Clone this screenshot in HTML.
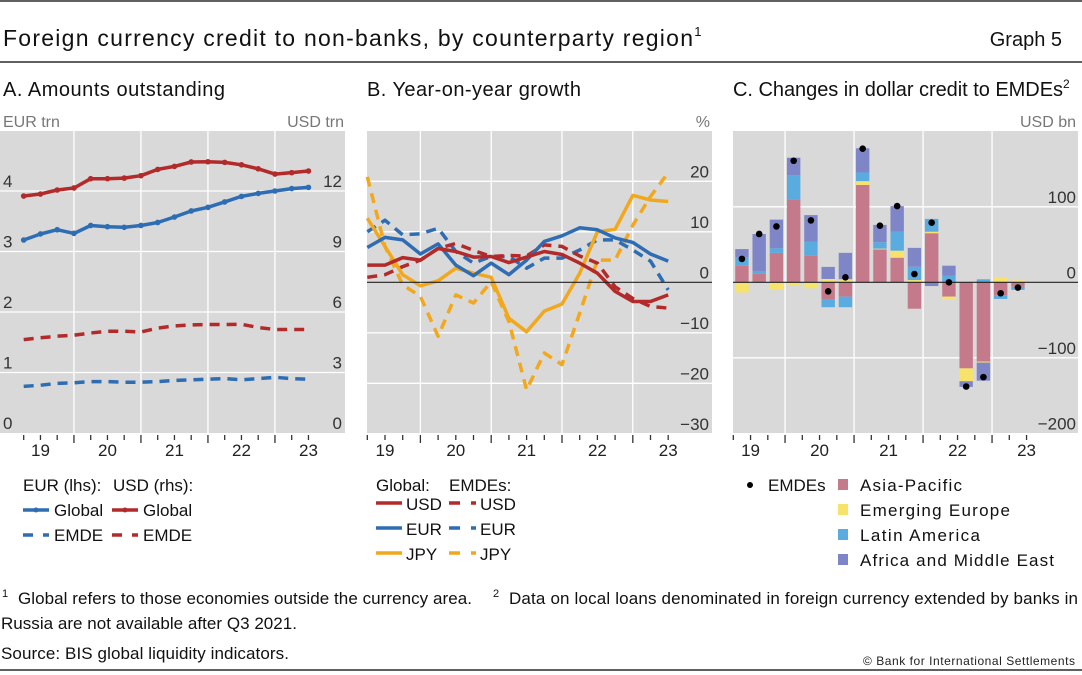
<!DOCTYPE html>
<html><head><meta charset="utf-8">
<style>
body{margin:0;background:#fff;}
svg{display:block;font-family:"Liberation Sans",sans-serif;}
</style></head>
<body>
<svg id="c" width="1082" height="675" viewBox="0 0 1082 675" xmlns="http://www.w3.org/2000/svg">
<line x1="0" y1="1" x2="1082" y2="1" stroke="#000" stroke-width="1.2"/>
<text x="3" y="46" font-size="23" fill="#111"><tspan textLength="690" lengthAdjust="spacing">Foreign currency credit to non-banks, by counterparty region</tspan><tspan font-size="13" dy="-10">1</tspan></text>
<text x="1062" y="46" font-size="20" fill="#111" text-anchor="end">Graph 5</text>
<line x1="0" y1="62" x2="1082" y2="62" stroke="#000" stroke-width="1.2"/>
<text x="3" y="96" font-size="20" fill="#111" textLength="222" lengthAdjust="spacing">A. Amounts outstanding</text>
<text x="367" y="96" font-size="20" fill="#111" textLength="214" lengthAdjust="spacing">B. Year-on-year growth</text>
<text x="733" y="96" font-size="20" fill="#111"><tspan textLength="330" lengthAdjust="spacing">C. Changes in dollar credit to EMDEs</tspan><tspan font-size="12" dy="-8">2</tspan></text>
<text x="3" y="127" font-size="16" fill="#777">EUR trn</text>
<text x="344" y="127" font-size="16" fill="#777" text-anchor="end">USD trn</text>
<text x="710" y="127" font-size="16" fill="#777" text-anchor="end">%</text>
<text x="1076" y="127" font-size="16" fill="#777" text-anchor="end">USD bn</text>
<g id="pa"></g>
<g id="pb"></g>
<g id="pc"></g>

<g font-size="17" fill="#111">
<text x="23" y="491">EUR (lhs):</text>
<text x="113" y="491">USD (rhs):</text>
<g><line x1="23" y1="510" x2="49" y2="510" stroke="#2e6db4" stroke-width="3.5"/><circle cx="36" cy="510" r="2.5" fill="#2e6db4"/><text x="54" y="516">Global</text></g>
<g><line x1="112" y1="510" x2="138" y2="510" stroke="#b22a2a" stroke-width="3.5"/><circle cx="125" cy="510" r="2.5" fill="#b22a2a"/><text x="143" y="516">Global</text></g>
<g><line x1="23" y1="535" x2="49" y2="535" stroke="#2e6db4" stroke-width="3.5" stroke-dasharray="10,10"/><text x="54" y="541">EMDE</text></g>
<g><line x1="112" y1="535" x2="138" y2="535" stroke="#b22a2a" stroke-width="3.5" stroke-dasharray="10,10"/><text x="143" y="541">EMDE</text></g>
</g>
<g font-size="17" fill="#111">
<text x="376" y="491">Global:</text>
<text x="449" y="491">EMDEs:</text>
<g><line x1="376" y1="503" x2="402" y2="503" stroke="#b22a2a" stroke-width="3.5"/><text x="406" y="510">USD</text></g>
<g><line x1="449" y1="503" x2="476" y2="503" stroke="#b22a2a" stroke-width="3.5" stroke-dasharray="11,11"/><text x="480" y="510">USD</text></g>
<g><line x1="376" y1="528" x2="402" y2="528" stroke="#2e6db4" stroke-width="3.5"/><text x="406" y="535">EUR</text></g>
<g><line x1="449" y1="528" x2="476" y2="528" stroke="#2e6db4" stroke-width="3.5" stroke-dasharray="11,11"/><text x="480" y="535">EUR</text></g>
<g><line x1="376" y1="553" x2="402" y2="553" stroke="#f2a81d" stroke-width="3.5"/><text x="406" y="560">JPY</text></g>
<g><line x1="449" y1="553" x2="476" y2="553" stroke="#f2a81d" stroke-width="3.5" stroke-dasharray="11,11"/><text x="480" y="560">JPY</text></g>
</g>
<g font-size="17" fill="#111">
<g><circle cx="750" cy="485" r="3" fill="#000"/><text x="768" y="491">EMDEs</text></g>
<g><rect x="838" y="479" width="10" height="11" fill="#c47a8a"/><text x="860" y="491" textLength="102" lengthAdjust="spacing">Asia-Pacific</text></g>
<g><rect x="838" y="504" width="10" height="11" fill="#f8e36a"/><text x="860" y="516" textLength="150" lengthAdjust="spacing">Emerging Europe</text></g>
<g><rect x="838" y="529" width="10" height="11" fill="#5aabe0"/><text x="860" y="541" textLength="120" lengthAdjust="spacing">Latin America</text></g>
<g><rect x="838" y="554" width="10" height="11" fill="#7f86c7"/><text x="860" y="566" textLength="194" lengthAdjust="spacing">Africa and Middle East</text></g>
</g>
<g font-size="17" fill="#111">
<text x="2" y="597" font-size="11">1</text>
<text x="18" y="604" textLength="454" lengthAdjust="spacing">Global refers to those economies outside the currency area.</text>
<text x="493" y="597" font-size="11">2</text>
<text x="509" y="604" textLength="569" lengthAdjust="spacing">Data on local loans denominated in foreign currency extended by banks in</text>
<text x="1" y="629" textLength="296" lengthAdjust="spacing">Russia are not available after Q3 2021.</text>
<text x="1" y="659" textLength="288" lengthAdjust="spacing">Source: BIS global liquidity indicators.</text>
<text x="1075" y="665" font-size="12" fill="#222" text-anchor="end" textLength="212" lengthAdjust="spacing">© Bank for International Settlements</text>
</g>
<line x1="0" y1="670" x2="1082" y2="670" stroke="#000" stroke-width="1.2"/>
</svg>
<script>
// ---- Panel A data (Q1 2019 .. Q2 2023)
const aEurGlobal=[3.19,3.29,3.36,3.30,3.43,3.41,3.40,3.43,3.48,3.57,3.67,3.73,3.82,3.91,3.96,4.00,4.04,4.06];
const aUsdGlobal=[11.75,11.85,12.05,12.15,12.61,12.61,12.64,12.76,13.07,13.22,13.44,13.45,13.42,13.30,13.10,12.84,12.91,12.99];
const aUsdEmde=[4.63,4.72,4.80,4.85,4.96,5.05,5.05,5.01,5.20,5.31,5.36,5.38,5.38,5.39,5.23,5.13,5.13,5.13];
const aEurEmde=[0.77,0.79,0.82,0.83,0.85,0.85,0.84,0.84,0.85,0.87,0.88,0.89,0.90,0.88,0.90,0.92,0.90,0.89];
const aLeftTicks=[0,1,2,3,4];
const aRightTicks=[0,3,6,9,12];
const yearLabels=["19","20","21","22","23"];
// ---- Panel B data
const bUsdGlobal=[3.4,3.4,4.9,4.4,6.7,6.1,5.0,5.1,3.9,5.0,6.1,5.5,3.8,1.8,-1.8,-3.8,-3.8,-2.5];
const bEurGlobal=[6.9,8.9,8.4,5.6,7.6,3.4,1.3,3.8,1.5,4.4,8.1,9.2,10.8,10.4,8.8,7.9,5.6,4.2];
const bJpyGlobal=[12.7,7.1,1.5,-0.7,0.3,2.8,1.8,1.0,-7.1,-9.8,-5.7,-4.3,1.8,10.0,10.5,17.2,16.3,16.0];
const bUsdEmde=[1.0,1.5,3.1,4.4,6.7,7.7,6.3,5.1,5.3,5.2,7.4,7.1,5.2,3.8,-0.9,-3.2,-4.8,-5.1];
const bEurEmde=[10.0,12.3,9.4,9.6,10.7,6.1,3.8,5.1,5.1,2.8,4.8,4.8,6.4,8.4,8.4,6.4,4.2,-1.5];
const bJpyEmde=[20.9,7.1,-0.5,-2.8,-10.7,-2.5,-4.1,0.1,-7.8,-21.3,-14.0,-16.3,-6.1,4.4,4.4,11.3,17.0,21.7];
const bTicks=[-30,-20,-10,0,10,20];
// ---- Panel C data (Q1 2019 .. Q1 2023), USD bn
const cAsiaPacific=[22,12,39,110,35,-23,-19,129,43.6,32.6,-35,65,-19,-114,-105,-17,-6];
const cEmergingEurope=[-13.6,0,-9,-4,-8,4.4,4,5,1,9.3,3,2,-3,-17,-1.3,6.6,2.6];
const cLatinAmerica=[11.5,3,6,32,19,-10,-14,11.5,8.4,25,17.6,17,9,0,4,-5,-4];
const cAfricaME=[10.5,49,38,23,35,16,35,32,23,34,25,-5,13,-7.5,-24,0,0];
const cEmdes=[31,64,74,161,82,-12,6.6,177,75,101,11,79,0,-138,-125.6,-14.5,-7];
const cTicks=[-200,-100,0,100];

const NS="http://www.w3.org/2000/svg";
function mk(parent,tag,attrs){const e=document.createElementNS(NS,tag);for(const k in attrs)e.setAttribute(k,attrs[k]);parent.appendChild(e);return e;}
const GRAY="#d9d9d9";

function frame(g,x0,x1,y0,y1,q0,qw,name){
  const bg=mk(g,"rect",{x:x0,y:y0,width:x1-x0,height:y1-y0,fill:GRAY});
  
  
  for(let k=0;k<4;k++){
    const x=q0+(4*k+3)*qw;
    const l=mk(g,"line",{x1:x,y1:y0,x2:x,y2:y1,stroke:"#fff","stroke-width":1.3});
    
    
  }
}
function ticksX(g,q0,qw,nq,ybase){
  for(let i=0;i<nq;i++){
    const x=q0+i*qw;
    const major=(i%4===3);
    const t=mk(g,"line",{x1:x,y1:ybase+2,x2:x,y2:ybase+(major?10:7),stroke:"#333","stroke-width":1.3});
    
    
  }
  yearLabels.forEach((lab,k)=>{
    const x=q0+(4*k+1)*qw;
    const t=mk(g,"text",{x:x,y:456,"font-size":17,fill:"#222","text-anchor":"middle"});
    t.textContent=lab;
    
    
  });
}
function hgrid(g,x0,x1,y,zero){
  const l=mk(g,"line",{x1:x0,y1:y,x2:x1,y2:y,stroke:zero?"#222":"#fff","stroke-width":zero?1.2:1.3});
  
  
}
function label(g,x,y,txt,anchor,name){
  const t=mk(g,"text",{x:x,y:y,"font-size":17,fill:"#333","text-anchor":anchor});
  t.textContent=txt;
  
  
}
function series(g,vals,xf,yf,color,dashed,markers,name){
  const d=vals.map((v,i)=>(i?"L":"M")+xf(i).toFixed(1)+","+yf(v).toFixed(1)).join("");
  const p=mk(g,"path",{d:d,fill:"none",stroke:color,"stroke-width":3.5,"stroke-linejoin":"round"});
  if(dashed)p.setAttribute("stroke-dasharray","10,7");
  
  
  if(markers)vals.forEach((v,i)=>{
    const c=mk(g,"circle",{cx:xf(i),cy:yf(v),r:2.8,fill:color});
    
    
  });
}

// Panel A
(function(){
  const g=document.getElementById("pa");
  const x0=0,x1=345,y0=131,y1=433,q0=23.7,qw=16.75;
  const xf=i=>q0+i*qw;
  const yL=v=>433-v*60.5;
  const yR=v=>433-v/3*60.5;
  frame(g,x0,x1,y0,y1,q0,qw,"panel-a");
  aLeftTicks.forEach(v=>{ if(v>0)hgrid(g,x0,x1,yL(v),false); label(g,3,yL(v)-4,String(v),"start","y-left-tick-label");});
  aRightTicks.forEach(v=>label(g,342,yR(v)-4,String(v),"end","y-right-tick-label"));
  series(g,aEurEmde,xf,yL,"#2e6db4",true,false,"eur-emde-line");
  series(g,aUsdEmde,xf,yR,"#b22a2a",true,false,"usd-emde-line");
  series(g,aEurGlobal,xf,yL,"#2e6db4",false,true,"eur-global-line");
  series(g,aUsdGlobal,xf,yR,"#b22a2a",false,true,"usd-global-line");
  ticksX(g,q0,qw,18,y1);
})();

// Panel B
(function(){
  const g=document.getElementById("pb");
  const x0=367,x1=712,y0=131,y1=433,q0=367.3,qw=17.7;
  const xf=i=>q0+i*qw;
  const yf=v=>282.3-v*5.05;
  frame(g,x0,x1,y0,y1,q0,qw,"panel-b");
  bTicks.forEach(v=>{ if(v!==0&&v!==-30)hgrid(g,x0,x1,yf(v),false); label(g,709,yf(v)-4,v<0?"\u2212"+(-v):String(v),"end","y-tick-label");});
  series(g,bJpyEmde,xf,yf,"#f2a81d",true,false,"jpy-emde-line");
  series(g,bEurEmde,xf,yf,"#2e6db4",true,false,"eur-emde-line");
  series(g,bUsdEmde,xf,yf,"#b22a2a",true,false,"usd-emde-line");
  series(g,bJpyGlobal,xf,yf,"#f2a81d",false,false,"jpy-global-line");
  series(g,bEurGlobal,xf,yf,"#2e6db4",false,false,"eur-global-line");
  series(g,bUsdGlobal,xf,yf,"#b22a2a",false,false,"usd-global-line");
  hgrid(g,x0,x1,yf(0),true);
  ticksX(g,q0,qw,18,y1);
})();

// Panel C
(function(){
  const g=document.getElementById("pc");
  const x0=733,x1=1078,y0=131,y1=433,q0=733.3,qw=17.25;
  const xc=i=>q0+(i+0.5)*qw;
  const yf=v=>282.3-v*0.755;
  frame(g,x0,x1,y0,y1,q0,qw,"panel-c");
  cTicks.forEach(v=>{ if(v!==0&&v!==-200)hgrid(g,x0,x1,yf(v),false); label(g,1076,yf(v)-4,v<0?"\u2212"+(-v):String(v),"end","y-tick-label");});
  const comps=[[cAsiaPacific,"#c47a8a","bar-asia-pacific"],[cEmergingEurope,"#f8e36a","bar-emerging-europe"],[cLatinAmerica,"#5aabe0","bar-latin-america"],[cAfricaME,"#7f86c7","bar-africa-middle-east"]];
  for(let i=0;i<cEmdes.length;i++){
    let pos=0,neg=0;
    comps.forEach(([arr,col,nm])=>{
      const v=arr[i]; if(!v)return;
      let a,b;
      if(v>0){a=pos;b=pos+v;pos=b;}else{a=neg;b=neg+v;neg=b;}
      const ya=yf(a),yb=yf(b);
      const r=mk(g,"rect",{x:xc(i)-6.7,y:Math.min(ya,yb),width:13.4,height:Math.abs(ya-yb),fill:col});
      
      
    });
  }
  hgrid(g,x0,x1,yf(0),true);
  cEmdes.forEach((v,i)=>{
    const c=mk(g,"circle",{cx:xc(i),cy:yf(v),r:3.3,fill:"#000"});
    
    
  });
  ticksX(g,q0,qw,18,y1);
})();
</script>
</body></html>
